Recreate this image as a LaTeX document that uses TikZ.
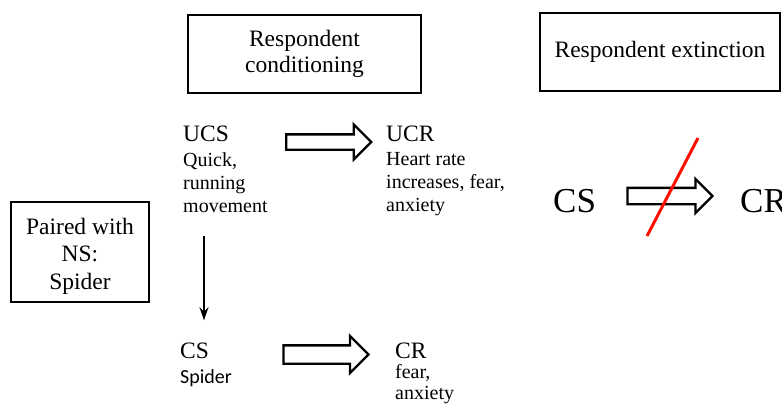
\documentclass[tikz,border=0pt]{standalone}
\usepackage{fontspec}
\setmainfont{Liberation Serif}
\newfontfamily\calfont{Carlito}
\usetikzlibrary{arrows.meta,positioning,calc,shapes.arrows}

\tikzset{
  titlebox/.style={draw, line width=2.2pt, align=center, inner sep=0pt},
  headtext/.style={anchor=base west, inner sep=0pt, font=\fontsize{23.5}{27}\selectfont},
  desctext/.style={anchor=north west, inner sep=0pt, align=left, font=\fontsize{20}{23}\selectfont},
  hollowarrow/.style={single arrow, draw, line width=2.3pt, inner sep=0pt, minimum height=85pt},
}

\begin{document}
\begin{tikzpicture}[x=1pt, y=-1pt]
    \useasboundingbox (0,0) rectangle (782,405);

    % title boxes
    \node[titlebox, minimum width=233pt, minimum height=78pt, font=\fontsize{23.5}{25.5}\selectfont]
        (condbox) at (304.5,54) {Respondent\\conditioning};
    \node[titlebox, minimum width=240pt, minimum height=78pt, font=\fontsize{23.5}{27}\selectfont]
        (extbox) at (660,52) {Respondent extinction};
    \node[titlebox, minimum width=138pt, minimum height=100pt] (pairbox) at (80,252) {};
    \node[align=center, inner sep=0pt, font=\fontsize{23.5}{27.5}\selectfont]
        (pairtext) at (80,256) {Paired with\\NS:\\Spider};

    % unconditioned pair
    \node[headtext] (ucs) at (183,141) {UCS};
    \node[desctext] (ucsdesc) at (183,152) {Quick,\\running\\movement};
    \node[headtext] (ucr) at (386,141) {UCR};
    \node[desctext] (ucrdesc) at (386,152) {Heart rate\\increases, fear,\\anxiety};
    \node[hollowarrow, single arrow head extend=10pt] (toparrow) at (325,142) {\rule{0pt}{13pt}};

    % conditioned pair
    \node[headtext] (cs) at (180,358) {CS};
    \node[desctext, font=\calfont\fontsize{20}{23}\selectfont] (csdesc) at (180,369) {Spider};
    \node[headtext] (cr) at (395,358) {CR};
    \node[desctext, font=\fontsize{20}{21}\selectfont] (crdesc) at (395,364) {fear,\\anxiety};
    \node[hollowarrow, single arrow head extend=9.5pt] (botarrow) at (321.5,354.5) {\rule{0pt}{16pt}};

    \draw[-{Stealth[length=13pt, width=9pt]}, line width=1.6pt]
        ($(ucsdesc.south west)+(21,24)$) -- ($(cs.north west)+(24,-22)$);

    % extinction
    \node[headtext, font=\fontsize{35}{40}\selectfont] (extcs) at (553,212) {CS};
    \node[headtext, font=\fontsize{35}{40}\selectfont] (extcr) at (740,212) {CR};
    \node[hollowarrow, single arrow head extend=9pt] (extarrow) at (666,196) {\rule{0pt}{14pt}};
    \coordinate (cuttop) at (698,138);
    \coordinate (cutbot) at (647,236);
    \draw[red!90!orange, line width=3pt] (cuttop) -- (cutbot);
\end{tikzpicture}
\end{document}
